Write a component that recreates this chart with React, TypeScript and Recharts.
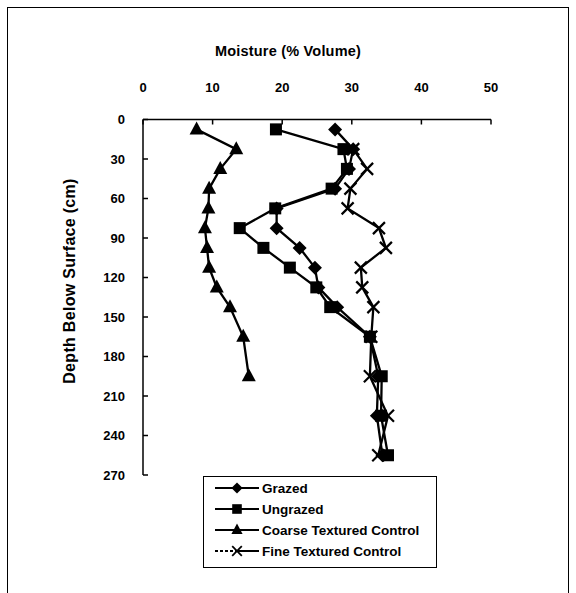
import React from "react";
import { ScatterChart, Scatter, XAxis, YAxis } from "recharts";

const FONT = "'Liberation Sans', Arial, sans-serif";

// depth below surface (cm)
const depths = [7.5, 22.5, 37.5, 52.5, 67.5, 82.5, 97.5, 112.5, 127.5, 142.5, 165, 195, 225, 255];

// moisture (% volume) per depth, null where not measured
const grazed = [27.6, 30.2, 29.6, 27.6, 19.2, 19.2, 22.5, 24.7, 25.2, 27.9, 32.6, 33.8, 33.6, 34.4];
const ungrazed = [19.1, 28.8, 29.3, 27.1, 19.0, 13.9, 17.3, 21.1, 24.9, 26.9, 32.6, 34.3, 34.2, 35.2];
const coarse = [7.7, 13.4, 11.1, 9.5, 9.4, 8.9, 9.2, 9.5, 10.6, 12.5, 14.4, 15.2, null, null];
const fine = [null, 30.2, 32.2, 29.8, 29.4, 33.9, 34.9, 31.3, 31.5, 33.1, 32.8, 32.6, 35.2, 33.8];

const xTicks = [0, 10, 20, 30, 40, 50];
const yTicks = [0, 30, 60, 90, 120, 150, 180, 210, 240, 270];

const toPoints = (vals: (number | null)[]) =>
  depths
    .map((d, i) => ({ x: vals[i], y: d }))
    .filter((p) => p.x !== null);

function Diamond({ cx, cy }: any) {
  return (
    <path
      d={`M${cx},${cy - 7}L${cx + 7},${cy}L${cx},${cy + 7}L${cx - 7},${cy}Z`}
      fill="#000"
    />
  );
}

function Square({ cx, cy }: any) {
  return <rect x={cx - 6} y={cy - 6} width={12} height={12} fill="#000" />;
}

function Triangle({ cx, cy }: any) {
  return (
    <path
      d={`M${cx},${cy - 8}L${cx + 7},${cy + 5}L${cx - 7},${cy + 5}Z`}
      fill="#000"
    />
  );
}

function XMark({ cx, cy }: any) {
  return (
    <g stroke="#000" strokeWidth={2.2}>
      <line x1={cx - 6} y1={cy - 6} x2={cx + 6} y2={cy + 6} />
      <line x1={cx - 6} y1={cy + 6} x2={cx + 6} y2={cy - 6} />
    </g>
  );
}

const series = [
  { name: "Grazed", values: grazed, Shape: Diamond, dashed: false },
  { name: "Ungrazed", values: ungrazed, Shape: Square, dashed: false },
  { name: "Coarse Textured Control", values: coarse, Shape: Triangle, dashed: false },
  { name: "Fine Textured Control", values: fine, Shape: XMark, dashed: true },
];

const tickStyle = { fill: "#000", fontSize: 13, fontWeight: "bold", fontFamily: FONT };

export default function App() {
  return (
    <div
      style={{
        position: "absolute",
        left: 0,
        top: 0,
        width: 576,
        height: 593,
        background: "#fff",
        fontFamily: FONT,
        overflow: "hidden",
      }}
    >
      {/* outer frame */}
      <div
        style={{
          position: "absolute",
          left: 7,
          top: 7,
          width: 560,
          height: 620,
          border: "1px solid #000",
        }}
      />

      <div
        style={{
          position: "absolute",
          left: 288,
          top: 51,
          transform: "translate(-50%, -50%)",
          fontSize: 14.5,
          fontWeight: "bold",
          letterSpacing: 0.2,
          whiteSpace: "nowrap",
        }}
      >
        Moisture (% Volume)
      </div>

      <div
        style={{
          position: "absolute",
          left: 70,
          top: 281,
          transform: "translate(-50%, -50%) rotate(-90deg)",
          fontSize: 16,
          fontWeight: "bold",
          letterSpacing: 0.3,
          whiteSpace: "nowrap",
        }}
      >
        Depth Below Surface (cm)
      </div>

      <div style={{ position: "absolute", left: 0, top: 0 }}>
        <ScatterChart
          width={576}
          height={593}
          margin={{ top: 89.5, right: 85, bottom: 118, left: 83 }}
        >
          <XAxis
            type="number"
            dataKey="x"
            orientation="top"
            domain={[0, 50]}
            ticks={xTicks}
            height={30}
            tickSize={-5}
            tickMargin={33}
            stroke="#000"
            strokeWidth={1.5}
            tick={tickStyle}
            allowDataOverflow
          />
          <YAxis
            type="number"
            dataKey="y"
            reversed
            domain={[0, 270]}
            ticks={yTicks}
            width={60}
            tickSize={-5}
            tickMargin={23}
            stroke="#000"
            strokeWidth={1.5}
            tick={tickStyle}
            allowDataOverflow
          />
          {series.map((s) => (
            <Scatter
              key={s.name}
              name={s.name}
              data={toPoints(s.values)}
              fill="#000"
              line={{ stroke: "#000", strokeWidth: 2.3 }}
              lineType="joint"
              shape={s.Shape}
              isAnimationActive={false}
            />
          ))}
        </ScatterChart>
      </div>

      {/* legend */}
      <div
        style={{
          position: "absolute",
          left: 203,
          top: 476,
          width: 232,
          height: 90,
          border: "1px solid #000",
          background: "#fff",
        }}
      >
        {series.map((s, i) => (
          <div
            key={s.name}
            style={{
              position: "absolute",
              left: 10,
              top: 2 + i * 21,
              height: 18,
              display: "flex",
              alignItems: "center",
              whiteSpace: "nowrap",
            }}
          >
            <svg width={46} height={18}>
              <line
                x1={1}
                y1={9}
                x2={23}
                y2={9}
                stroke="#000"
                strokeWidth={2}
                strokeDasharray={s.dashed ? "3 2" : undefined}
              />
              <line x1={23} y1={9} x2={45} y2={9} stroke="#000" strokeWidth={2} />
              <g transform="translate(23,9) scale(0.8) translate(-23,-9)">
                <s.Shape cx={23} cy={9} />
              </g>
            </svg>
            <span style={{ fontSize: 13.5, fontWeight: "bold", marginLeft: 2 }}>{s.name}</span>
          </div>
        ))}
      </div>
    </div>
  );
}
